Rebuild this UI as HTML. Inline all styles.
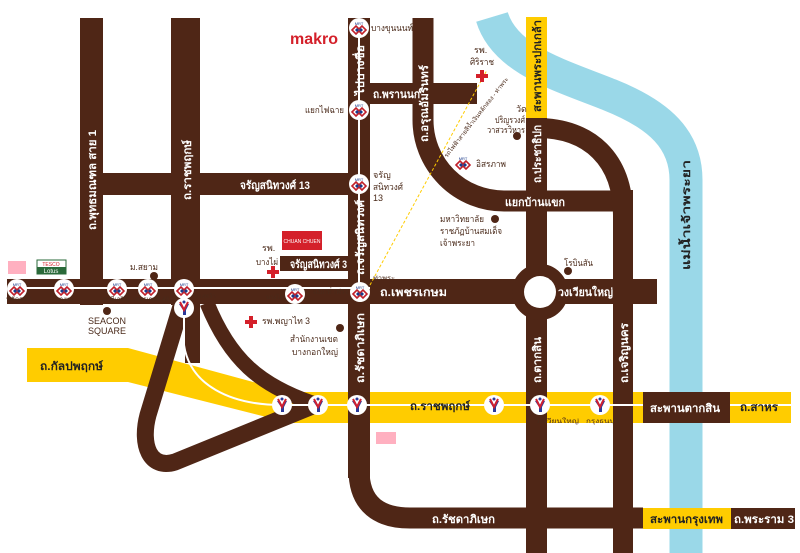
<!DOCTYPE html>
<html><head><meta charset="utf-8"><style>
html,body{margin:0;padding:0;background:#fff;}
svg{display:block;}
text{font-family:"Liberation Sans","DejaVu Sans",sans-serif;}
.w{fill:#fff;font-size:11px;font-weight:bold;}
.b{fill:#4a2a1a;font-size:9px;}
.s{fill:#4a2a1a;font-size:6px;}
.k{fill:#222;font-size:11px;font-weight:bold;}
</style></head><body>
<svg width="800" height="553" viewBox="0 0 800 553" xmlns="http://www.w3.org/2000/svg">
<defs>
<g id="mrt"><circle r="10" fill="#fff"/><text y="-3" font-size="4" text-anchor="middle" fill="#1a3a8a">MRT</text><path d="M-7 2 L-3 -2 L0 1 L3 -2 L7 2 L3 6 L0 3 L-3 6Z" fill="none" stroke="#c0202a" stroke-width="1.6"/><path d="M-4 2 L-2 0 L0 2 L2 0 L4 2 L2 4 L0 2 L-2 4Z" fill="#1a3a8a"/></g>
<g id="bts"><circle r="10" fill="#fff"/><path d="M-5 -4 L-1 2 L-1 7 L2 7 L2 2 L5 -4 L2 -4 L0 0 L-2 -4Z" fill="#2a3a9a"/><path d="M-4 -6 L0 2 L4 -6" fill="none" stroke="#d02030" stroke-width="2"/><circle cy="-6" r="1.5" fill="#2a3a9a"/></g>
</defs>
<path d="M492 17 C505 60 560 75 610 95 C660 115 686 140 686 180 L686 553" fill="none" stroke="#9ad8e8" stroke-width="33"/>
<polygon points="27,348 128,348 290,392 290,423 128,382 27,382" fill="#ffcc00"/>
<rect x="285" y="392" width="358" height="31" fill="#ffcc00"/>
<rect x="730" y="392" width="61" height="31" fill="#ffcc00"/>
<rect x="526" y="17" width="21" height="101" fill="#ffcc00"/>
<rect x="643" y="508" width="88" height="21" fill="#ffcc00"/>
<g fill="#4f2616" stroke="none">
<rect x="80" y="18" width="23" height="287"/>
<rect x="171" y="18" width="29" height="287"/>
<rect x="103" y="173" width="250" height="22"/>
<rect x="348" y="18" width="22" height="460"/>
<rect x="280" y="256" width="70" height="15"/>
<rect x="7" y="279" width="650" height="25"/>
<rect x="368" y="83" width="109" height="21"/>
<rect x="526" y="118" width="21" height="435"/>
<rect x="613" y="190" width="20" height="363"/>
<rect x="643" y="392" width="87" height="31"/>
<rect x="731" y="508" width="64" height="21"/>
<rect x="185" y="300" width="15" height="63"/>
</g>
<g fill="none" stroke="#4f2616">
<path d="M423 18 L423 120 A81 81 0 0 0 504 201 L613 201" stroke-width="21"/>
<path d="M537 128 C590 128 623 160 623 215" stroke-width="20"/>
<path d="M359 470 C359 505 380 518 410 518 L643 518" stroke-width="21"/>
<path d="M182 303 L148 415 C140 445 150 470 175 462 L315 405" stroke-width="17"/>
<path d="M207 303 C230 360 260 385 312 403" stroke-width="15"/>
<circle cx="540" cy="292" r="22" stroke-width="12"/>
</g>
<circle cx="540" cy="292" r="16" fill="#fff"/>
<g stroke="#fff" stroke-width="2" fill="none">
<line x1="10" y1="288" x2="370" y2="288"/>
<line x1="359" y1="30" x2="359" y2="290"/>
<path d="M184 305 L184 345 C190 385 230 405 282 405 L643 405"/>
<line x1="730" y1="405" x2="791" y2="405"/>
</g>
<line x1="370" y1="285" x2="487" y2="70" stroke="#ffcc00" stroke-width="1" stroke-dasharray="3,2"/>
<use href="#mrt" x="17" y="289"/><use href="#mrt" x="64" y="289"/><use href="#mrt" x="117" y="289"/><use href="#mrt" x="148" y="289"/><use href="#mrt" x="184" y="289"/><use href="#mrt" x="295" y="294"/><use href="#mrt" x="360" y="292"/>
<use href="#mrt" x="359" y="28"/><use href="#mrt" x="359" y="110"/><use href="#mrt" x="359" y="184"/><use href="#mrt" x="463" y="163"/>
<use href="#bts" x="184" y="308"/><use href="#bts" x="282" y="405"/><use href="#bts" x="318" y="405"/><use href="#bts" x="357" y="405"/><use href="#bts" x="494" y="405"/><use href="#bts" x="540" y="405"/><use href="#bts" x="600" y="405"/>
<text class="w" transform="translate(96,230) rotate(-90)" textLength="100" lengthAdjust="spacingAndGlyphs">ถ.พุทธมณฑล สาย 1</text>
<text class="w" transform="translate(191,200) rotate(-90)" textLength="60" lengthAdjust="spacingAndGlyphs">ถ.ราชพฤกษ์</text>
<text class="w" x="240" y="189" textLength="70" lengthAdjust="spacingAndGlyphs">จรัญสนิทวงศ์ 13</text>
<text class="w" x="290" y="268" textLength="57" lengthAdjust="spacingAndGlyphs">จรัญสนิทวงศ์ 3</text>
<text class="w" transform="translate(364,95) rotate(-90)" textLength="50" lengthAdjust="spacingAndGlyphs">ไปบางซื่อ</text>
<text class="w" transform="translate(364,275) rotate(-90)" textLength="75" lengthAdjust="spacingAndGlyphs">ถ.จรัญสนิทวงศ์</text>
<text class="w" transform="translate(364,383) rotate(-90)" textLength="70" lengthAdjust="spacingAndGlyphs">ถ.รัชดาภิเษก</text>
<text class="w" x="373" y="98" textLength="47" lengthAdjust="spacingAndGlyphs">ถ.พรานนก</text>
<text class="w" transform="translate(428,142) rotate(-90)" textLength="77" lengthAdjust="spacingAndGlyphs">ถ.อรุณอัมรินทร์</text>
<text class="w" x="505" y="206" textLength="60" lengthAdjust="spacingAndGlyphs">แยกบ้านแขก</text>
<text class="w" transform="translate(541,183) rotate(-90)" textLength="58" lengthAdjust="spacingAndGlyphs">ถ.ประชาธิปก</text>
<text class="k" transform="translate(541,112) rotate(-90)" textLength="92" lengthAdjust="spacingAndGlyphs">สะพานพระปกเกล้า</text>
<text class="w" x="380" y="296" textLength="67" lengthAdjust="spacingAndGlyphs">ถ.เพชรเกษม</text>
<text class="w" x="558" y="296" textLength="55" lengthAdjust="spacingAndGlyphs">วงเวียนใหญ่</text>
<text class="w" transform="translate(541,383) rotate(-90)" textLength="46" lengthAdjust="spacingAndGlyphs">ถ.ตากสิน</text>
<text class="w" transform="translate(628,383) rotate(-90)" textLength="60" lengthAdjust="spacingAndGlyphs">ถ.เจริญนคร</text>
<text class="k" x="40" y="370" textLength="63" lengthAdjust="spacingAndGlyphs">ถ.กัลปพฤกษ์</text>
<text class="k" x="410" y="410" textLength="60" lengthAdjust="spacingAndGlyphs">ถ.ราชพฤกษ์</text>
<text class="w" x="650" y="412" textLength="70" lengthAdjust="spacingAndGlyphs">สะพานตากสิน</text>
<text class="k" x="740" y="411" textLength="38" lengthAdjust="spacingAndGlyphs">ถ.สาหร</text>
<text class="w" x="432" y="523" textLength="63" lengthAdjust="spacingAndGlyphs">ถ.รัชดาภิเษก</text>
<text class="k" x="650" y="523" textLength="73" lengthAdjust="spacingAndGlyphs">สะพานกรุงเทพ</text>
<text class="w" x="734" y="523" textLength="60" lengthAdjust="spacingAndGlyphs">ถ.พระราม 3</text>
<text class="k" transform="translate(690,270) rotate(-90)" textLength="110" lengthAdjust="spacingAndGlyphs" fill="#333">แม่น้ำเจ้าพระยา</text>
<text x="290" y="44" font-size="16" font-weight="bold" fill="#d4202a">makro</text>
<text class="b" x="371" y="31" textLength="42" lengthAdjust="spacingAndGlyphs">บางขุนนนท์</text>
<text class="b" x="305" y="113" textLength="39" lengthAdjust="spacingAndGlyphs">แยกไฟฉาย</text>
<text class="b" x="373" y="178">จรัญ</text><text class="b" x="373" y="190" textLength="30" lengthAdjust="spacingAndGlyphs">สนิทวงศ์</text><text class="b" x="373" y="201">13</text>
<text class="b" x="474" y="53">รพ.</text><text class="b" x="470" y="65" textLength="24" lengthAdjust="spacingAndGlyphs">ศิริราช</text>
<path d="M476 74h4v-4h4v4h4v4h-4v4h-4v-4h-4z" fill="#d4202a"/>
<text class="b" x="516" y="112">วัด</text><text class="b" x="495" y="123" textLength="30" lengthAdjust="spacingAndGlyphs">ปริญรวงศ์</text><text class="b" x="487" y="133" textLength="38" lengthAdjust="spacingAndGlyphs">วาสวรวิหาร</text>
<circle cx="517" cy="136" r="4" fill="#4f2616"/>
<text class="b" x="476" y="167" textLength="30" lengthAdjust="spacingAndGlyphs">อิสรภาพ</text>
<text class="s" transform="translate(447,158) rotate(-52)" textLength="100" lengthAdjust="spacingAndGlyphs">รถไฟฟ้าสายสีน้ำเงินหลักสอง - ท่าพระ</text>
<text class="b" x="440" y="222" textLength="44" lengthAdjust="spacingAndGlyphs">มหาวิทยาลัย</text><circle cx="495" cy="219" r="4" fill="#4f2616"/>
<text class="b" x="440" y="234" textLength="62" lengthAdjust="spacingAndGlyphs">ราชภัฏบ้านสมเด็จ</text><text class="b" x="440" y="246" textLength="35" lengthAdjust="spacingAndGlyphs">เจ้าพระยา</text>
<text class="b" x="564" y="266" textLength="29" lengthAdjust="spacingAndGlyphs">โรบินสัน</text><circle cx="568" cy="271" r="4" fill="#4f2616"/>
<rect x="282" y="231" width="40" height="19" fill="#d4202a"/><text x="302" y="243" font-size="5" fill="#fff" text-anchor="middle">CHUAN CHUEN</text>
<text class="b" x="262" y="251">รพ.</text><text class="b" x="256" y="265" textLength="22" lengthAdjust="spacingAndGlyphs">บางไผ่</text>
<path d="M267 270h4v-4h4v4h4v4h-4v4h-4v-4h-4z" fill="#d4202a"/>
<text class="b" x="130" y="270" textLength="28" lengthAdjust="spacingAndGlyphs">ม.สยาม</text><circle cx="154" cy="276" r="4" fill="#4f2616"/>
<text class="s" x="373" y="280" textLength="22" lengthAdjust="spacingAndGlyphs">ท่าพระ</text>
<text class="s" x="6" y="301" textLength="25" lengthAdjust="spacingAndGlyphs">หลักสอง</text><text class="s" x="56" y="301" textLength="18" lengthAdjust="spacingAndGlyphs">บางแค</text><text class="s" x="103" y="301" textLength="26" lengthAdjust="spacingAndGlyphs">ภาษีเจริญ</text><text class="s" x="133" y="301" textLength="36" lengthAdjust="spacingAndGlyphs">เพชรเกษม 48</text><text class="s" x="194" y="298" textLength="22" lengthAdjust="spacingAndGlyphs">บางหว้า</text><text class="s" x="266" y="299" textLength="17" lengthAdjust="spacingAndGlyphs">บางไผ่</text><text class="b" x="313" y="294" textLength="36" lengthAdjust="spacingAndGlyphs">แยกท่าพระ</text>
<rect x="8" y="261" width="18" height="13" fill="#ffb0c0"/><rect x="37" y="260" width="29" height="14" fill="#fff" stroke="#2a6a3a"/><rect x="37" y="267" width="29" height="7" fill="#2a6a3a"/><text x="51" y="266" font-size="5" text-anchor="middle" fill="#d4202a">TESCO</text><text x="51" y="273" font-size="6" text-anchor="middle" fill="#fff">Lotus</text>
<circle cx="107" cy="311" r="4" fill="#4f2616"/>
<text x="88" y="324" font-size="9" fill="#4a2a1a">SEACON</text><text x="88" y="334" font-size="9" fill="#4a2a1a">SQUARE</text>
<path d="M245 320h4v-4h4v4h4v4h-4v4h-4v-4h-4z" fill="#d4202a"/>
<text class="b" x="262" y="324" textLength="48" lengthAdjust="spacingAndGlyphs">รพ.พญาไท 3</text>
<circle cx="340" cy="328" r="4" fill="#4f2616"/>
<text class="b" x="290" y="342" textLength="48" lengthAdjust="spacingAndGlyphs">สำนักงานเขต</text><text class="b" x="292" y="355" textLength="46" lengthAdjust="spacingAndGlyphs">บางกอกใหญ่</text>
<rect x="376" y="432" width="20" height="12" fill="#ffb0c0"/>
<text class="s" x="535" y="423" fill="#333" textLength="44" lengthAdjust="spacingAndGlyphs">วงเวียนใหญ่</text><text class="s" x="586" y="423" fill="#333" textLength="33" lengthAdjust="spacingAndGlyphs">กรุงธนบุรี</text>
</svg>
</body></html>
